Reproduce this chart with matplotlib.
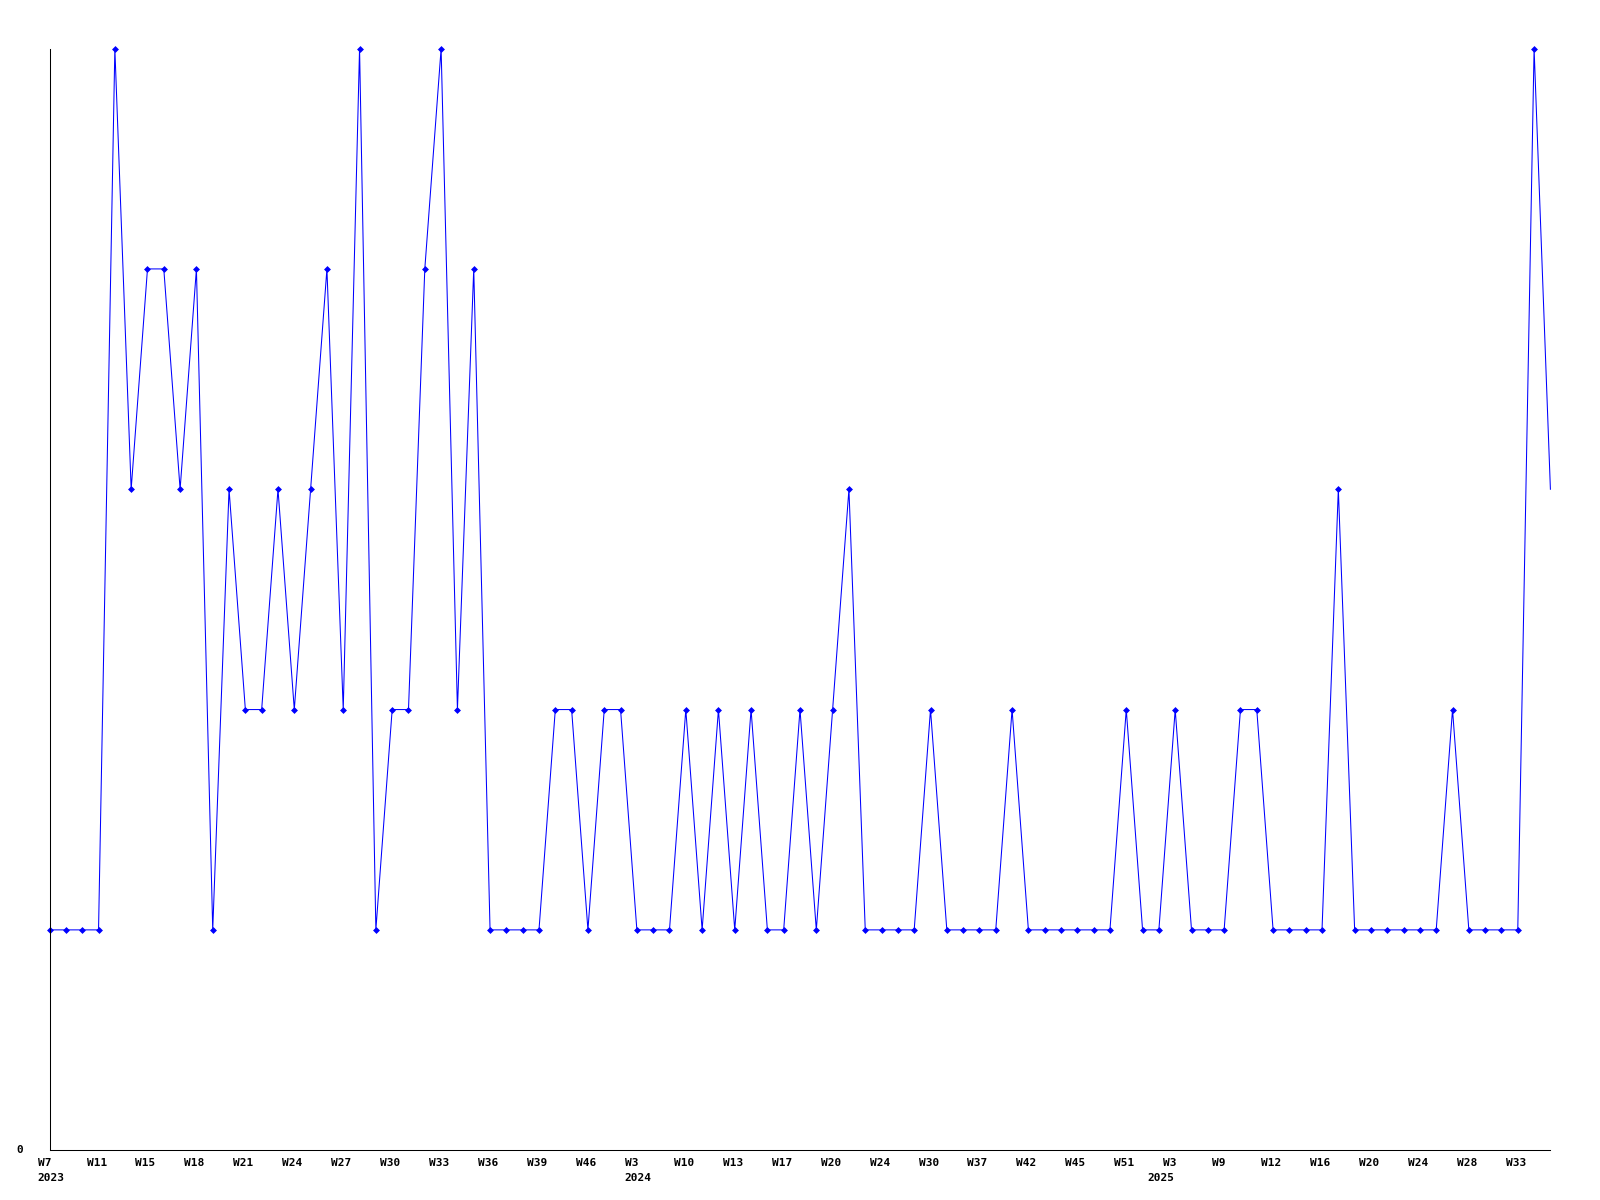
import matplotlib
matplotlib.use('Agg')
import matplotlib.pyplot as plt

# weekly values, one per point (the last one is drawn without a marker)
values = [1, 1, 1, 1, 5, 3, 4, 4, 3, 4, 1, 3, 2, 2, 3, 2, 3, 4, 2, 5,
          1, 2, 2, 4, 5, 2, 4, 1, 1, 1, 1, 2, 2, 1, 2, 2, 1, 1, 1, 2,
          1, 2, 1, 2, 1, 1, 2, 1, 2, 3, 1, 1, 1, 1, 2, 1, 1, 1, 1, 2,
          1, 1, 1, 1, 1, 1, 2, 1, 1, 2, 1, 1, 1, 2, 2, 1, 1, 1, 1, 3,
          1, 1, 1, 1, 1, 1, 2, 1, 1, 1, 1, 5, 3]

# a label on every 3rd point
week_labels = ['W7', 'W11', 'W15', 'W18', 'W21', 'W24', 'W27', 'W30', 'W33', 'W36',
               'W39', 'W46', 'W3', 'W10', 'W13', 'W17', 'W20', 'W24', 'W30', 'W37',
               'W42', 'W45', 'W51', 'W3', 'W9', 'W12', 'W16', 'W20', 'W24', 'W28', 'W33']
year_pos = [0, 36, 68]
year_labels = ['2023', '2024', '2025']

fnt = dict(family='DejaVu Sans Mono', weight='bold', size=8, color='black')

fig = plt.figure(figsize=(16, 12), dpi=100)
ax = fig.add_axes([0.031, 0.0415, 0.938, 0.918])

x = list(range(len(values)))
ax.plot(x, values, color='#0000ff', lw=0.75, marker='D', ms=3, mew=0.5,
        markevery=slice(0, len(values) - 1), clip_on=False)

ax.set_xlim(0, len(values) - 1)
ax.set_ylim(0, 5)
ax.spines['top'].set_visible(False)
ax.spines['right'].set_visible(False)
for s in ('left', 'bottom'):
    ax.spines[s].set_linewidth(0.75)
ax.set_xticks([])
ax.set_yticks([])

# tick labels drawn by hand, left aligned a bit before each point
for i, lab in enumerate(week_labels):
    ax.annotate(lab, xy=(i * 3, 0), xytext=(-12, -8), textcoords='offset pixels',
                ha='left', va='top', annotation_clip=False, **fnt)
for p, yr in zip(year_pos, year_labels):
    ax.annotate(yr, xy=(p, 0), xytext=(-12, -23), textcoords='offset pixels',
                ha='left', va='top', annotation_clip=False, **fnt)
ax.annotate('0', xy=(0, 0), xytext=(-26, 0), textcoords='offset pixels',
            ha='right', va='center', annotation_clip=False, **fnt)

fig.savefig('out.png', dpi=100)
